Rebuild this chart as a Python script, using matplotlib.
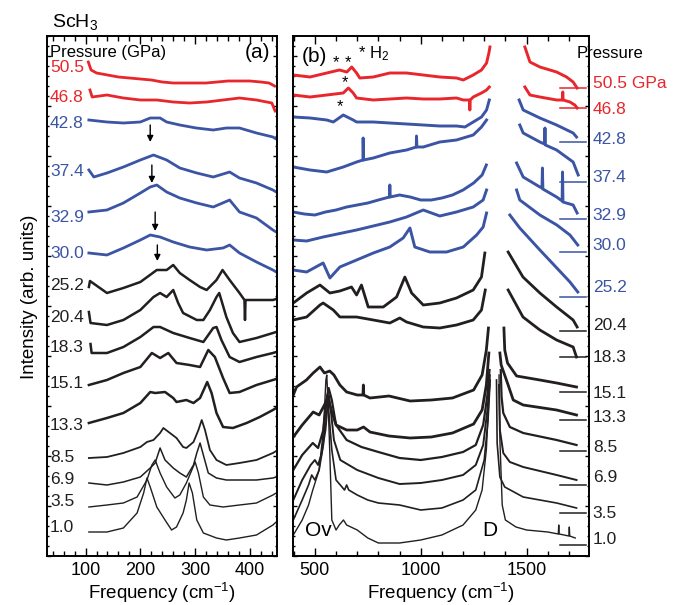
import matplotlib
matplotlib.use("Agg")
import matplotlib.pyplot as plt
from matplotlib.ticker import MultipleLocator

plt.rcParams['font.family'] = ['Liberation Sans', 'DejaVu Sans']
plt.rcParams['mathtext.fontset'] = 'custom'
plt.rcParams['mathtext.rm'] = 'Liberation Sans'
plt.rcParams['mathtext.it'] = 'Liberation Sans:italic'

RED = '#e8262b'
BLUE = '#3b54a4'
BLACK = '#231f20'

pressures = ["50.5", "46.8", "42.8", "37.4", "32.9", "30.0", "25.2", "20.4",
             "18.3", "15.1", "13.3", "8.5", "6.9", "3.5", "1.0"]

# ---- panel (a): low-frequency spectra (offset intensities) ----
a505_x = [105, 110, 120, 140, 160, 180, 200, 220, 240, 260, 280, 300, 320, 340, 360, 380, 400, 420, 435, 445]
a505_y = [494, 486, 483, 481, 479, 478, 477, 476, 474, 473, 473, 473, 473, 474, 475, 475, 475, 474, 473, 470]
a468_x = [108, 112, 139, 169, 200, 230, 260, 290, 321, 351, 381, 412, 440, 446]
a468_y = [466, 459, 461, 458, 456, 456, 454, 453, 454, 456, 458, 456, 453, 445]
a428_x = [106, 139, 169, 200, 218, 236, 248, 272, 302, 333, 357, 381, 412, 442, 448]
a428_y = [436, 434, 433, 434, 438, 438, 434, 431, 428, 426, 428, 428, 423, 419, 417]
a374_x = [106, 115, 139, 169, 200, 224, 248, 272, 303, 333, 363, 381, 412, 442, 448]
a374_y = [386, 379, 383, 389, 396, 401, 396, 388, 383, 379, 384, 378, 373, 366, 364]
a329_x = [106, 139, 169, 200, 218, 230, 248, 272, 303, 333, 363, 381, 412, 442, 448]
a329_y = [344, 346, 353, 363, 369, 371, 364, 358, 353, 349, 356, 344, 338, 326, 324]
a300_x = [106, 139, 169, 200, 218, 236, 260, 290, 321, 351, 363, 381, 412, 442, 448]
a300_y = [303, 301, 308, 316, 321, 319, 314, 309, 306, 308, 311, 303, 294, 286, 284]
a252_x = [106, 108, 139, 169, 200, 230, 248, 260, 272, 290, 309, 321, 339, 350, 363, 381, 390, 391, 392, 412, 442, 448]
a252_y = [269, 275, 263, 268, 274, 286, 286, 291, 283, 276, 269, 266, 276, 286, 276, 263, 256, 236, 256, 256, 256, 257]
a204_x = [106, 109, 139, 169, 200, 224, 236, 248, 260, 269, 278, 303, 315, 327, 339, 344, 357, 369, 381, 412, 442, 448]
a204_y = [244, 233, 231, 236, 246, 259, 263, 259, 266, 253, 243, 236, 236, 246, 259, 263, 239, 223, 214, 218, 223, 224]
a183_x = [109, 111, 139, 169, 200, 224, 236, 260, 290, 315, 333, 339, 348, 363, 381, 412, 442, 448]
a183_y = [212, 203, 203, 209, 219, 229, 229, 223, 218, 214, 228, 229, 216, 199, 194, 199, 203, 204]
a151_x = [106, 139, 169, 200, 221, 236, 251, 266, 290, 309, 324, 336, 351, 363, 381, 412, 442, 448]
a151_y = [171, 176, 183, 189, 203, 198, 203, 193, 191, 189, 206, 199, 178, 163, 164, 171, 176, 177]
a133_x = [106, 139, 169, 200, 218, 227, 245, 260, 266, 284, 297, 309, 318, 322, 330, 339, 351, 369, 394, 418, 442, 448]
a133_y = [133, 138, 143, 153, 164, 163, 164, 158, 154, 156, 153, 158, 169, 174, 163, 143, 129, 128, 133, 139, 146, 148]
a85_x = [106, 139, 169, 200, 212, 224, 236, 242, 254, 266, 278, 284, 297, 306, 312, 318, 327, 339, 357, 381, 412, 442, 448]
a85_y = [98, 99, 103, 109, 114, 116, 123, 128, 123, 118, 109, 108, 114, 126, 136, 126, 106, 96, 91, 93, 96, 103, 105]
a69_x = [106, 139, 169, 200, 218, 227, 236, 245, 260, 272, 284, 297, 303, 309, 315, 324, 339, 357, 381, 412, 442, 448]
a69_y = [73, 71, 74, 79, 88, 93, 108, 96, 88, 83, 79, 91, 103, 113, 101, 83, 78, 76, 76, 76, 78, 79]
a35_x = [106, 139, 169, 194, 212, 221, 227, 236, 248, 263, 272, 284, 294, 300, 306, 315, 327, 351, 381, 412, 442, 448]
a35_y = [49, 51, 53, 59, 76, 91, 96, 83, 69, 58, 61, 73, 86, 94, 83, 59, 51, 49, 51, 53, 61, 63]
a10_x = [106, 139, 169, 194, 206, 212, 218, 230, 245, 257, 266, 278, 284, 289, 295, 303, 315, 339, 357, 381, 412, 442, 448]
a10_y = [24, 24, 28, 43, 63, 78, 69, 49, 36, 26, 29, 43, 56, 73, 63, 36, 23, 18, 16, 18, 21, 31, 34]

# arrows over the broad band (x, tail y, head y)
arrow_x = [218, 221, 227, 231]
arrow_y0 = [431, 391, 344, 311]
arrow_y1 = [414, 373, 325, 295]

# ---- panel (b): high-frequency spectra, left and right of diamond peak ----
b505_lx = [398, 477, 556, 616, 651, 674, 697, 712, 776, 854, 933, 1012, 1090, 1169, 1201, 1248, 1287, 1311, 1322, 1327]
b505_ly = [481, 479, 483, 486, 484, 489, 483, 478, 479, 483, 483, 481, 479, 478, 476, 481, 486, 493, 503, 509]
b505_rx = [1492, 1516, 1563, 1642, 1689, 1720, 1739]
b505_ry = [509, 494, 489, 484, 479, 474, 468]
b468_lx = [398, 477, 556, 634, 658, 681, 697, 776, 854, 933, 1012, 1090, 1169, 1201, 1230, 1232, 1234, 1248, 1287, 1311, 1324]
b468_ly = [461, 459, 461, 463, 468, 463, 458, 456, 457, 458, 457, 457, 458, 456, 456, 446, 456, 459, 463, 466, 469]
b468_rx = [1492, 1516, 1563, 1642, 1669, 1671, 1673, 1705, 1728, 1739]
b468_ry = [469, 461, 459, 456, 456, 464, 456, 454, 451, 448]
b428_lx = [398, 477, 556, 587, 634, 681, 697, 776, 854, 933, 1012, 1090, 1169, 1209, 1248, 1287, 1311, 1324]
b428_ly = [439, 438, 436, 434, 441, 436, 434, 434, 433, 432, 431, 430, 430, 429, 434, 439, 446, 456]
b428_rx = [1465, 1484, 1563, 1642, 1720, 1736]
b428_ry = [456, 446, 438, 431, 423, 419]
b374_lx = [398, 477, 556, 634, 697, 727, 728, 730, 776, 854, 933, 979, 980, 982, 1012, 1090, 1169, 1248, 1287, 1311]
b374_ly = [389, 386, 384, 389, 394, 396, 418, 396, 398, 403, 406, 409, 420, 409, 409, 414, 416, 421, 429, 436]
b374_rx = [1468, 1484, 1563, 1585, 1587, 1589, 1642, 1720, 1744]
b374_ry = [431, 423, 414, 412, 428, 411, 406, 394, 381]
b329_lx = [398, 450, 500, 550, 600, 650, 700, 750, 800, 852, 854, 856, 900, 950, 1000, 1050, 1100, 1150, 1200, 1250, 1290, 1310]
b329_ly = [344, 342, 341, 344, 346, 349, 351, 353, 356, 359, 371, 359, 361, 359, 356, 356, 358, 361, 366, 373, 381, 391]
b329_rx = [1453, 1484, 1563, 1573, 1575, 1577, 1642, 1668, 1670, 1672, 1720, 1739]
b329_ry = [393, 379, 369, 368, 388, 367, 359, 355, 384, 354, 351, 343]
b300_lx = [398, 461, 539, 697, 854, 933, 1012, 1090, 1169, 1248, 1295, 1311]
b300_ly = [316, 315, 319, 326, 334, 339, 346, 340, 344, 349, 356, 366]
b300_rx = [1453, 1468, 1563, 1643, 1705, 1742]
b300_ry = [366, 356, 341, 331, 321, 311]
b252_lx = [398, 461, 539, 571, 618, 697, 776, 854, 917, 949, 972, 1043, 1122, 1201, 1264, 1295, 1311]
b252_ly = [286, 284, 293, 278, 289, 296, 303, 309, 318, 328, 309, 304, 304, 309, 321, 329, 343]
b252_rx = [1421, 1468, 1563, 1643, 1705, 1742]
b252_ry = [341, 328, 306, 288, 274, 264]
b204_lx = [398, 461, 524, 571, 618, 673, 697, 720, 752, 823, 886, 925, 957, 1012, 1090, 1169, 1248, 1287, 1303]
b204_ly = [253, 263, 271, 263, 265, 269, 261, 271, 249, 249, 259, 279, 263, 251, 253, 258, 266, 279, 303]
b204_rx = [1413, 1483, 1563, 1642, 1720, 1739]
b204_ry = [304, 279, 263, 249, 236, 229]
b183_lx = [398, 461, 524, 539, 587, 618, 697, 776, 854, 901, 933, 1012, 1090, 1169, 1248, 1287, 1305]
b183_ly = [236, 239, 251, 253, 246, 239, 239, 236, 233, 238, 234, 229, 228, 231, 236, 246, 266]
b183_rx = [1413, 1483, 1563, 1642, 1720, 1736]
b183_ry = [266, 239, 226, 216, 209, 199]
b151_lx = [398, 413, 460, 492, 524, 545, 570, 590, 618, 650, 700, 727, 729, 731, 760, 850, 950, 1050, 1150, 1250, 1290, 1310, 1320]
b151_ly = [161, 169, 176, 183, 189, 183, 185, 181, 171, 164, 161, 161, 171, 161, 158, 160, 155, 156, 158, 166, 181, 206, 228]
b151_rx = [1393, 1397, 1410, 1453, 1563, 1642, 1736]
b151_ry = [228, 206, 193, 180, 176, 173, 169]
b133_lx = [398, 440, 492, 520, 545, 562, 580, 600, 650, 700, 730, 760, 850, 950, 1050, 1150, 1250, 1290, 1310, 1322]
b133_ly = [119, 131, 144, 141, 151, 158, 144, 131, 126, 126, 129, 124, 120, 118, 119, 123, 132, 146, 171, 203]
b133_rx = [1374, 1380, 1413, 1437, 1484, 1642, 1736]
b133_ry = [203, 191, 171, 156, 151, 146, 141]
b85_lx = [398, 440, 490, 515, 540, 555, 565, 580, 600, 650, 720, 800, 900, 1000, 1100, 1200, 1260, 1295, 1315, 1325]
b85_ly = [86, 101, 113, 108, 126, 156, 168, 156, 131, 116, 109, 104, 98, 96, 99, 104, 111, 131, 161, 186]
b85_rx = [1378, 1382, 1390, 1421, 1484, 1642, 1736]
b85_ry = [186, 159, 143, 129, 123, 116, 111]
b69_lx = [398, 440, 480, 500, 515, 530, 550, 560, 566, 575, 590, 620, 700, 800, 900, 1000, 1100, 1200, 1260, 1295, 1315, 1325]
b69_ly = [56, 76, 91, 96, 91, 101, 126, 151, 161, 146, 116, 96, 86, 78, 72, 73, 76, 81, 91, 111, 146, 171]
b69_rx = [1370, 1374, 1390, 1421, 1484, 1642, 1736]
b69_ry = [171, 126, 103, 94, 89, 81, 76]
b35_lx = [398, 440, 470, 485, 500, 520, 540, 550, 557, 565, 580, 600, 640, 650, 660, 700, 750, 800, 900, 1000, 1100, 1200, 1260, 1300, 1318, 1328]
b35_ly = [36, 56, 71, 81, 76, 86, 111, 146, 161, 146, 106, 76, 66, 71, 66, 61, 56, 53, 51, 46, 48, 56, 66, 96, 136, 176]
b35_rx = [1358, 1361, 1374, 1397, 1484, 1642, 1736]
b35_ry = [176, 113, 79, 69, 59, 53, 48]
b10_lx = [398, 440, 470, 490, 505, 520, 535, 545, 552, 556, 562, 570, 580, 590, 600, 615, 635, 650, 700, 750, 800, 900, 1000, 1100, 1200, 1260, 1290, 1310, 1322, 1328]
b10_ly = [21, 36, 51, 66, 76, 86, 116, 146, 176, 181, 156, 106, 36, 31, 26, 31, 36, 31, 26, 18, 13, 13, 16, 21, 31, 46, 66, 106, 156, 181]
b10_rx = [1370, 1374, 1385, 1400, 1450, 1500, 1600, 1650, 1652, 1654, 1700, 1702, 1704, 1730]
b10_ry = [181, 116, 51, 36, 29, 26, 24, 22, 31, 22, 20, 29, 20, 18]

# layout: label heights and baseline markers
a_label_y = [488, 458, 433, 385, 339, 303, 270, 239, 209, 172, 131, 99, 77, 54, 28]
b_mark_y = [468, 448, 414, 374, 337, 304, 259, 225, 199, 164, 136, 105, 71, 43, 11]
b_label_y = [473, 446, 417, 379, 340, 311, 268, 230, 198, 163, 139, 108, 78, 43, 16]

a_colors = [RED, RED] + [BLUE] * 4 + [BLACK] * 9
b_colors = [RED, RED] + [BLUE] * 5 + [BLACK] * 8
a_lw = [2.0] * 6 + [1.8] * 5 + [1.3, 1.1, 1.0, 1.0]
b_lw = [2.1] * 7 + [2.0] * 4 + [1.6, 1.4, 1.2, 1.0]

a_data = [(a505_x, a505_y), (a468_x, a468_y), (a428_x, a428_y), (a374_x, a374_y),
          (a329_x, a329_y), (a300_x, a300_y), (a252_x, a252_y), (a204_x, a204_y),
          (a183_x, a183_y), (a151_x, a151_y), (a133_x, a133_y), (a85_x, a85_y),
          (a69_x, a69_y), (a35_x, a35_y), (a10_x, a10_y)]
b_data = [(b505_lx, b505_ly, b505_rx, b505_ry), (b468_lx, b468_ly, b468_rx, b468_ry),
          (b428_lx, b428_ly, b428_rx, b428_ry), (b374_lx, b374_ly, b374_rx, b374_ry),
          (b329_lx, b329_ly, b329_rx, b329_ry), (b300_lx, b300_ly, b300_rx, b300_ry),
          (b252_lx, b252_ly, b252_rx, b252_ry), (b204_lx, b204_ly, b204_rx, b204_ry),
          (b183_lx, b183_ly, b183_rx, b183_ry), (b151_lx, b151_ly, b151_rx, b151_ry),
          (b133_lx, b133_ly, b133_rx, b133_ry), (b85_lx, b85_ly, b85_rx, b85_ry),
          (b69_lx, b69_ly, b69_rx, b69_ry), (b35_lx, b35_ly, b35_rx, b35_ry),
          (b10_lx, b10_ly, b10_rx, b10_ry)]

W, H = 679, 605
fig = plt.figure(figsize=(W / 100, H / 100), dpi=100)
axa = fig.add_axes([46.7 / W, 49 / H, 230.6 / W, 520 / H])
axb = fig.add_axes([293.3 / W, 49 / H, 295.7 / W, 520 / H])


def style_axis(ax, major, minor):
    ax.set_ylim(0, 520)
    ax.xaxis.set_major_locator(MultipleLocator(major))
    ax.xaxis.set_minor_locator(MultipleLocator(minor))
    ax.yaxis.set_major_locator(MultipleLocator(50))
    ax.yaxis.set_minor_locator(MultipleLocator(10))
    ax.tick_params(which='both', direction='in', top=True, right=True,
                   labelleft=False, width=1.0, labelsize=13, pad=4)
    ax.tick_params(axis='x', which='major', length=6)
    ax.tick_params(axis='x', which='minor', length=3.5)
    ax.tick_params(axis='y', which='major', length=3)
    ax.tick_params(axis='y', which='minor', length=1.5)
    for s in ax.spines.values():
        s.set_linewidth(1.4)
    ax.set_xlabel('Frequency (cm$^{-1}$)', fontsize=13.5, labelpad=2)


# panel (a)
for (x, y), c, lw in zip(a_data, a_colors, a_lw):
    axa.plot(x, y, color=c, lw=lw)
for p, yl, c in zip(pressures, a_label_y, a_colors):
    axa.text(35, yl, p, color=c, fontsize=12.5, va='center', ha='left')
for x, y0, y1 in zip(arrow_x, arrow_y0, arrow_y1):
    axa.annotate('', xy=(x, y1), xytext=(x, y0),
                 arrowprops=dict(arrowstyle='-|>', color='black', lw=1.0,
                                 mutation_scale=9, shrinkA=0, shrinkB=0))
axa.set_xlim(29, 450)
style_axis(axa, 100, 20)
axa.text(35, 503, 'Pressure (GPa)', fontsize=12, va='center', ha='left')
axa.text(414, 503, '(a)', fontsize=15, va='center', ha='center')

# panel (b)
for (lx, ly, rx, ry), c, lw in zip(b_data, b_colors, b_lw):
    axb.plot(lx, ly, color=c, lw=lw)
    axb.plot(rx, ry, color=c, lw=lw)
for ym, c in zip(b_mark_y, b_colors):
    axb.plot([1657, 1783], [ym, ym], color=c, lw=1.1)
axb.set_xlim(398, 1795)
style_axis(axb, 500, 100)
for p, yl, c in zip(pressures, b_label_y, b_colors):
    txt = p + ' GPa' if p == '50.5' else p
    axb.text(1813, yl, txt, color=c, fontsize=12.5, va='center', ha='left',
             clip_on=False)
axb.text(500, 500, '(b)', fontsize=15, va='center', ha='center')
axb.text(703, 502, '* H$_2$', fontsize=12, va='center', ha='left')
for sx, sy in [(599, 493), (657, 493), (642, 473), (618, 449)]:
    axb.text(sx, sy, '*', fontsize=12, va='center', ha='center')
axb.text(453, 26, 'Ov', fontsize=15, va='center', ha='left')
axb.text(1327, 26, 'D', fontsize=15, va='center', ha='center')

fig.text(577 / W, 1 - 53 / H, 'Pressure', fontsize=12, va='center', ha='left')
fig.text(52 / W, 1 - 22 / H, 'ScH$_3$', fontsize=14, va='center', ha='left')
fig.text(30 / W, 0.51, 'Intensity (arb. units)', fontsize=13.5, va='center',
         ha='center', rotation=90)

fig.savefig('out.png', dpi=100)
